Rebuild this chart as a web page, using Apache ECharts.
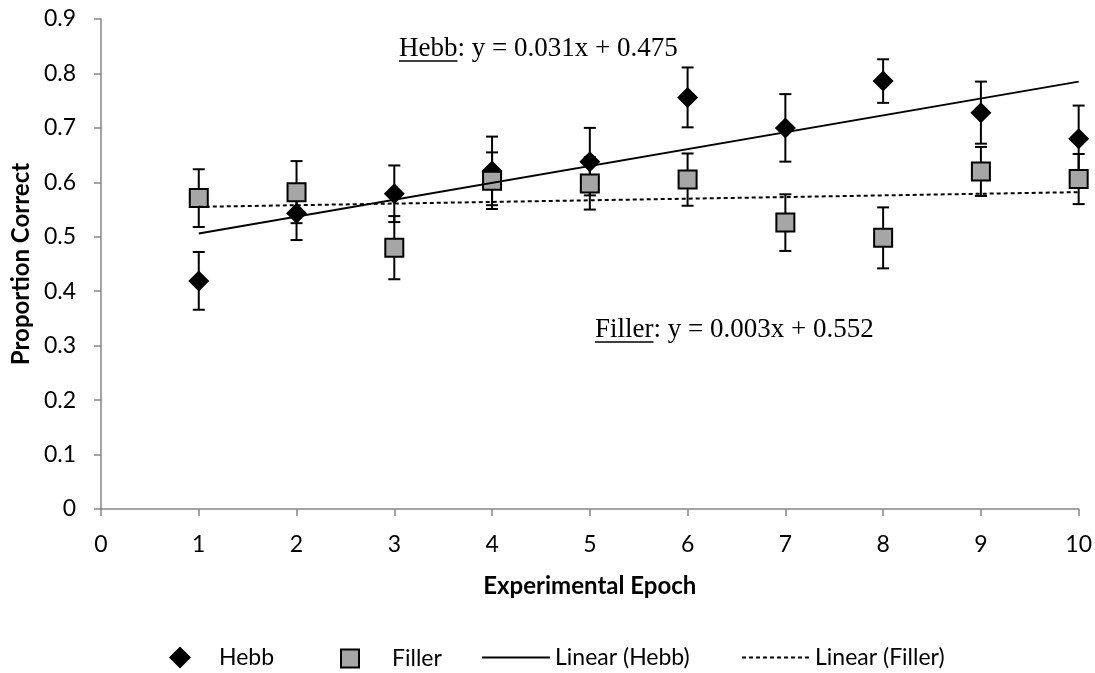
<!DOCTYPE html>
<html>
<head>
<meta charset="utf-8">
<script src="https://cdn.jsdelivr.net/npm/echarts@6/dist/echarts.min.js"></script>
<style>
  html, body { margin: 0; padding: 0; background: #fff; }
  #chart { width: 1095px; height: 673px; }
</style>
</head>
<body>
<div id="chart"></div>
<script>
// data
const epochs = [1, 2, 3, 4, 5, 6, 7, 8, 9, 10]
const hebbMean = [0.419, 0.543, 0.579, 0.621, 0.638, 0.756, 0.700, 0.786, 0.728, 0.680]
const hebbErr = [0.053, 0.049, 0.052, 0.063, 0.062, 0.055, 0.062, 0.040, 0.057, 0.061]
const fillerMean = [0.571, 0.582, 0.480, 0.603, 0.598, 0.605, 0.526, 0.498, 0.620, 0.606]
const fillerErr = [0.053, 0.057, 0.058, 0.052, 0.048, 0.048, 0.052, 0.056, 0.045, 0.046]
// linear trend lines (end points from the printed equations)
const trendX = [1, 10]
const hebbTrend = [0.506, 0.785]
const fillerTrend = [0.555, 0.582]

const hebbEq = ['Hebb', ': y = 0.031x + 0.475']
const fillerEq = ['Filler', ': y = 0.003x + 0.552']

const sans = 'Lato'
const serif = 'Liberation Serif'

const myChart = echarts.init(document.getElementById('chart'))

function pairs(xs, ys) {
  return xs.map(function (x, i) { return [x, ys[i]] })
}

function errData(mean, err) {
  return epochs.map(function (x, i) { return [x, mean[i] - err[i], mean[i] + err[i]] })
}

function renderErrorBar(params, api) {
  const x = api.value(0)
  const lo = api.coord([x, api.value(1)])
  const hi = api.coord([x, api.value(2)])
  const half = 6
  const style = { stroke: '#000', lineWidth: 2 }
  return {
    type: 'group',
    children: [
      { type: 'line', shape: { x1: lo[0], y1: lo[1], x2: hi[0], y2: hi[1] }, style: style },
      { type: 'line', shape: { x1: lo[0] - half, y1: lo[1], x2: lo[0] + half, y2: lo[1] }, style: style },
      { type: 'line', shape: { x1: hi[0] - half, y1: hi[1], x2: hi[0] + half, y2: hi[1] }, style: style }
    ]
  }
}

// width of the underlined word
const eqFont = '27px "' + serif + '"'
const ctx = document.createElement('canvas').getContext('2d')
ctx.font = eqFont
function textW(t) { return ctx.measureText(t).width }

function equation(parts, x, y) {
  const w = textW(parts[0])
  return {
    type: 'group',
    children: [
      { type: 'text', x: x, y: y, style: { text: parts[0] + parts[1], font: eqFont, fill: '#000', verticalAlign: 'middle' } },
      { type: 'line', shape: { x1: x, y1: y + 12, x2: x + w, y2: y + 12 }, style: { stroke: '#000', lineWidth: 1.5 } }
    ]
  }
}

function legendText(padLeft) {
  return { fontFamily: sans, fontSize: 23, color: '#000', padding: [0, 0, 0, padLeft] }
}
const legendTop = 646
const noSymbol = { color: 'transparent', borderWidth: 0 }

const option = {
  animation: false,
  backgroundColor: '#fff',
  grid: { left: 101, right: 14, top: 19, bottom: 164 },
  xAxis: {
    type: 'value',
    min: 0,
    max: 10,
    interval: 1,
    name: 'Experimental Epoch',
    nameLocation: 'middle',
    nameGap: 65,
    nameTextStyle: { fontFamily: sans, fontSize: 24, fontWeight: 'bold', color: '#000' },
    axisLine: { onZero: false, lineStyle: { color: '#868686', width: 1.5 } },
    axisTick: { show: true, length: 7, lineStyle: { color: '#868686', width: 1.5 } },
    axisLabel: { margin: 24, fontFamily: sans, fontSize: 23, color: '#000' },
    splitLine: { show: false }
  },
  yAxis: {
    type: 'value',
    min: 0,
    max: 0.9,
    interval: 0.1,
    name: 'Proportion Correct',
    nameLocation: 'middle',
    nameGap: 68,
    nameTextStyle: { fontFamily: sans, fontSize: 24, fontWeight: 'bold', color: '#000' },
    axisLine: { show: true, onZero: false, lineStyle: { color: '#868686', width: 1.5 } },
    axisTick: { show: true, length: 7, lineStyle: { color: '#868686', width: 1.5 } },
    axisLabel: { margin: 25, fontFamily: sans, fontSize: 23, color: '#000' },
    splitLine: { show: false }
  },
  legend: [
    { data: ['Hebb'], left: 169, top: legendTop, padding: 0, itemWidth: 22, itemHeight: 22, textStyle: legendText(23) },
    { data: ['Filler'], left: 340, top: legendTop + 1, padding: 0, itemWidth: 18, itemHeight: 18, textStyle: legendText(28) },
    { data: ['Linear (Hebb)'], left: 481, top: legendTop, padding: 0, itemWidth: 68, itemHeight: 22, itemStyle: noSymbol, textStyle: legendText(0) },
    { data: ['Linear (Filler)'], left: 741, top: legendTop, padding: 0, itemWidth: 68, itemHeight: 22, itemStyle: noSymbol, textStyle: legendText(0) }
  ],
  graphic: [
    equation(hebbEq, 399, 49),
    equation(fillerEq, 595, 330)
  ],
  series: [
    {
      type: 'custom',
      name: 'hebbErr',
      renderItem: renderErrorBar,
      encode: { x: 0, y: [1, 2] },
      data: errData(hebbMean, hebbErr),
      z: 2,
      silent: true
    },
    {
      type: 'scatter',
      name: 'Hebb',
      data: pairs(epochs, hebbMean),
      symbol: 'diamond',
      symbolSize: 21,
      itemStyle: { color: '#000', opacity: 1 },
      z: 3
    },
    {
      type: 'custom',
      name: 'fillerErr',
      renderItem: renderErrorBar,
      encode: { x: 0, y: [1, 2] },
      data: errData(fillerMean, fillerErr),
      z: 4,
      silent: true
    },
    {
      type: 'scatter',
      name: 'Filler',
      data: pairs(epochs, fillerMean),
      symbol: 'rect',
      symbolSize: 18,
      itemStyle: { color: '#a6a6a6', borderColor: '#000', borderWidth: 2, opacity: 1 },
      z: 5
    },
    {
      type: 'line',
      name: 'Linear (Hebb)',
      data: pairs(trendX, hebbTrend),
      symbol: 'none',
      lineStyle: { color: '#000', width: 2, type: 'solid' },
      itemStyle: { color: '#000' },
      z: 6
    },
    {
      type: 'line',
      name: 'Linear (Filler)',
      data: pairs(trendX, fillerTrend),
      symbol: 'none',
      lineStyle: { color: '#000', width: 2, type: [4, 3] },
      itemStyle: { color: '#000' },
      z: 6
    }
  ]
}

option && myChart.setOption(option)
</script>
</body>
</html>
